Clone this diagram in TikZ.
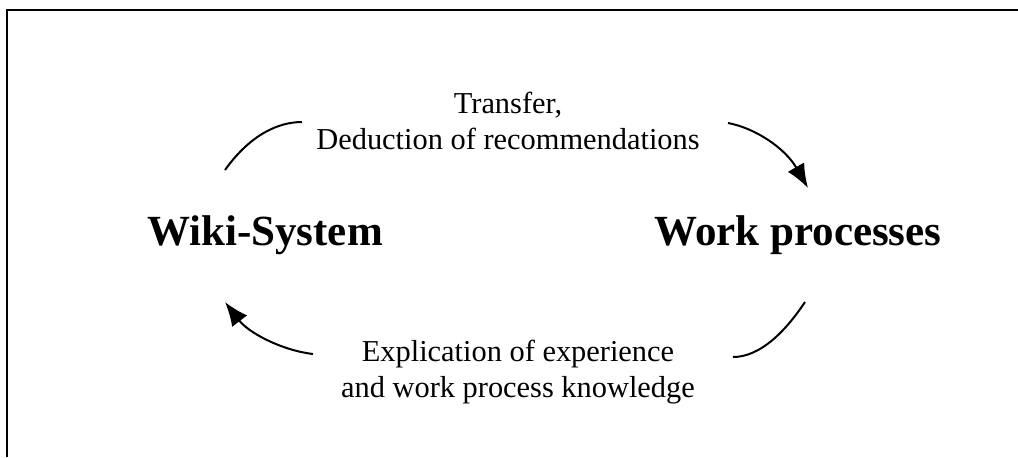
\documentclass[tikz,border=0pt]{standalone}
\usepackage{fontspec}
\setmainfont{Liberation Serif}
\usetikzlibrary{arrows.meta}

\begin{document}
\begin{tikzpicture}[x=0.5pt,y=-0.5pt,
  bogen/.style={line width=1pt},
  pfeil/.style={line width=1pt,-{Latex[length=12pt,width=9.5pt]}},
  titel/.style={font=\fontsize{21.5}{26}\selectfont\bfseries, anchor=base, inner sep=0pt},
  erklaerung/.style={font=\fontsize{15.2}{18}\selectfont, align=center, inner sep=0pt}]

\useasboundingbox (0,0) rectangle (1018,457);

\begin{scope}
\draw[line width=1pt] (1018,10) -- (7,10) -- (7,457);

\node[titel] (wiki) at (265,245) {Wiki-System};
\node[titel] (work) at (798,245) {Work processes};

\node[erklaerung] (transfer) at (508,121) {Transfer,\\ Deduction of recommendations};
\node[erklaerung] (explikation) at (518,372) {Explication of experience\\ and work process knowledge};

\coordinate (wo) at (225,170);
\coordinate (tl) at (302,122);
\coordinate (tr) at (728,123);
\coordinate (ao) at (808,188);
\coordinate (au) at (805,302);
\coordinate (br) at (733,357);
\coordinate (bl) at (313,354);
\coordinate (wu) at (225,302);

\draw[bogen] (wo) .. controls (250,135) and (278,122) .. (tl);
\draw[pfeil] (tr) .. controls (755,128) and (785,148) .. (ao);

\draw[bogen] (br) .. controls (760,357) and (785,332) .. (au);
\draw[pfeil] (bl) .. controls (280,350) and (248,332) .. (wu);
\end{scope}

\end{tikzpicture}
\end{document}
